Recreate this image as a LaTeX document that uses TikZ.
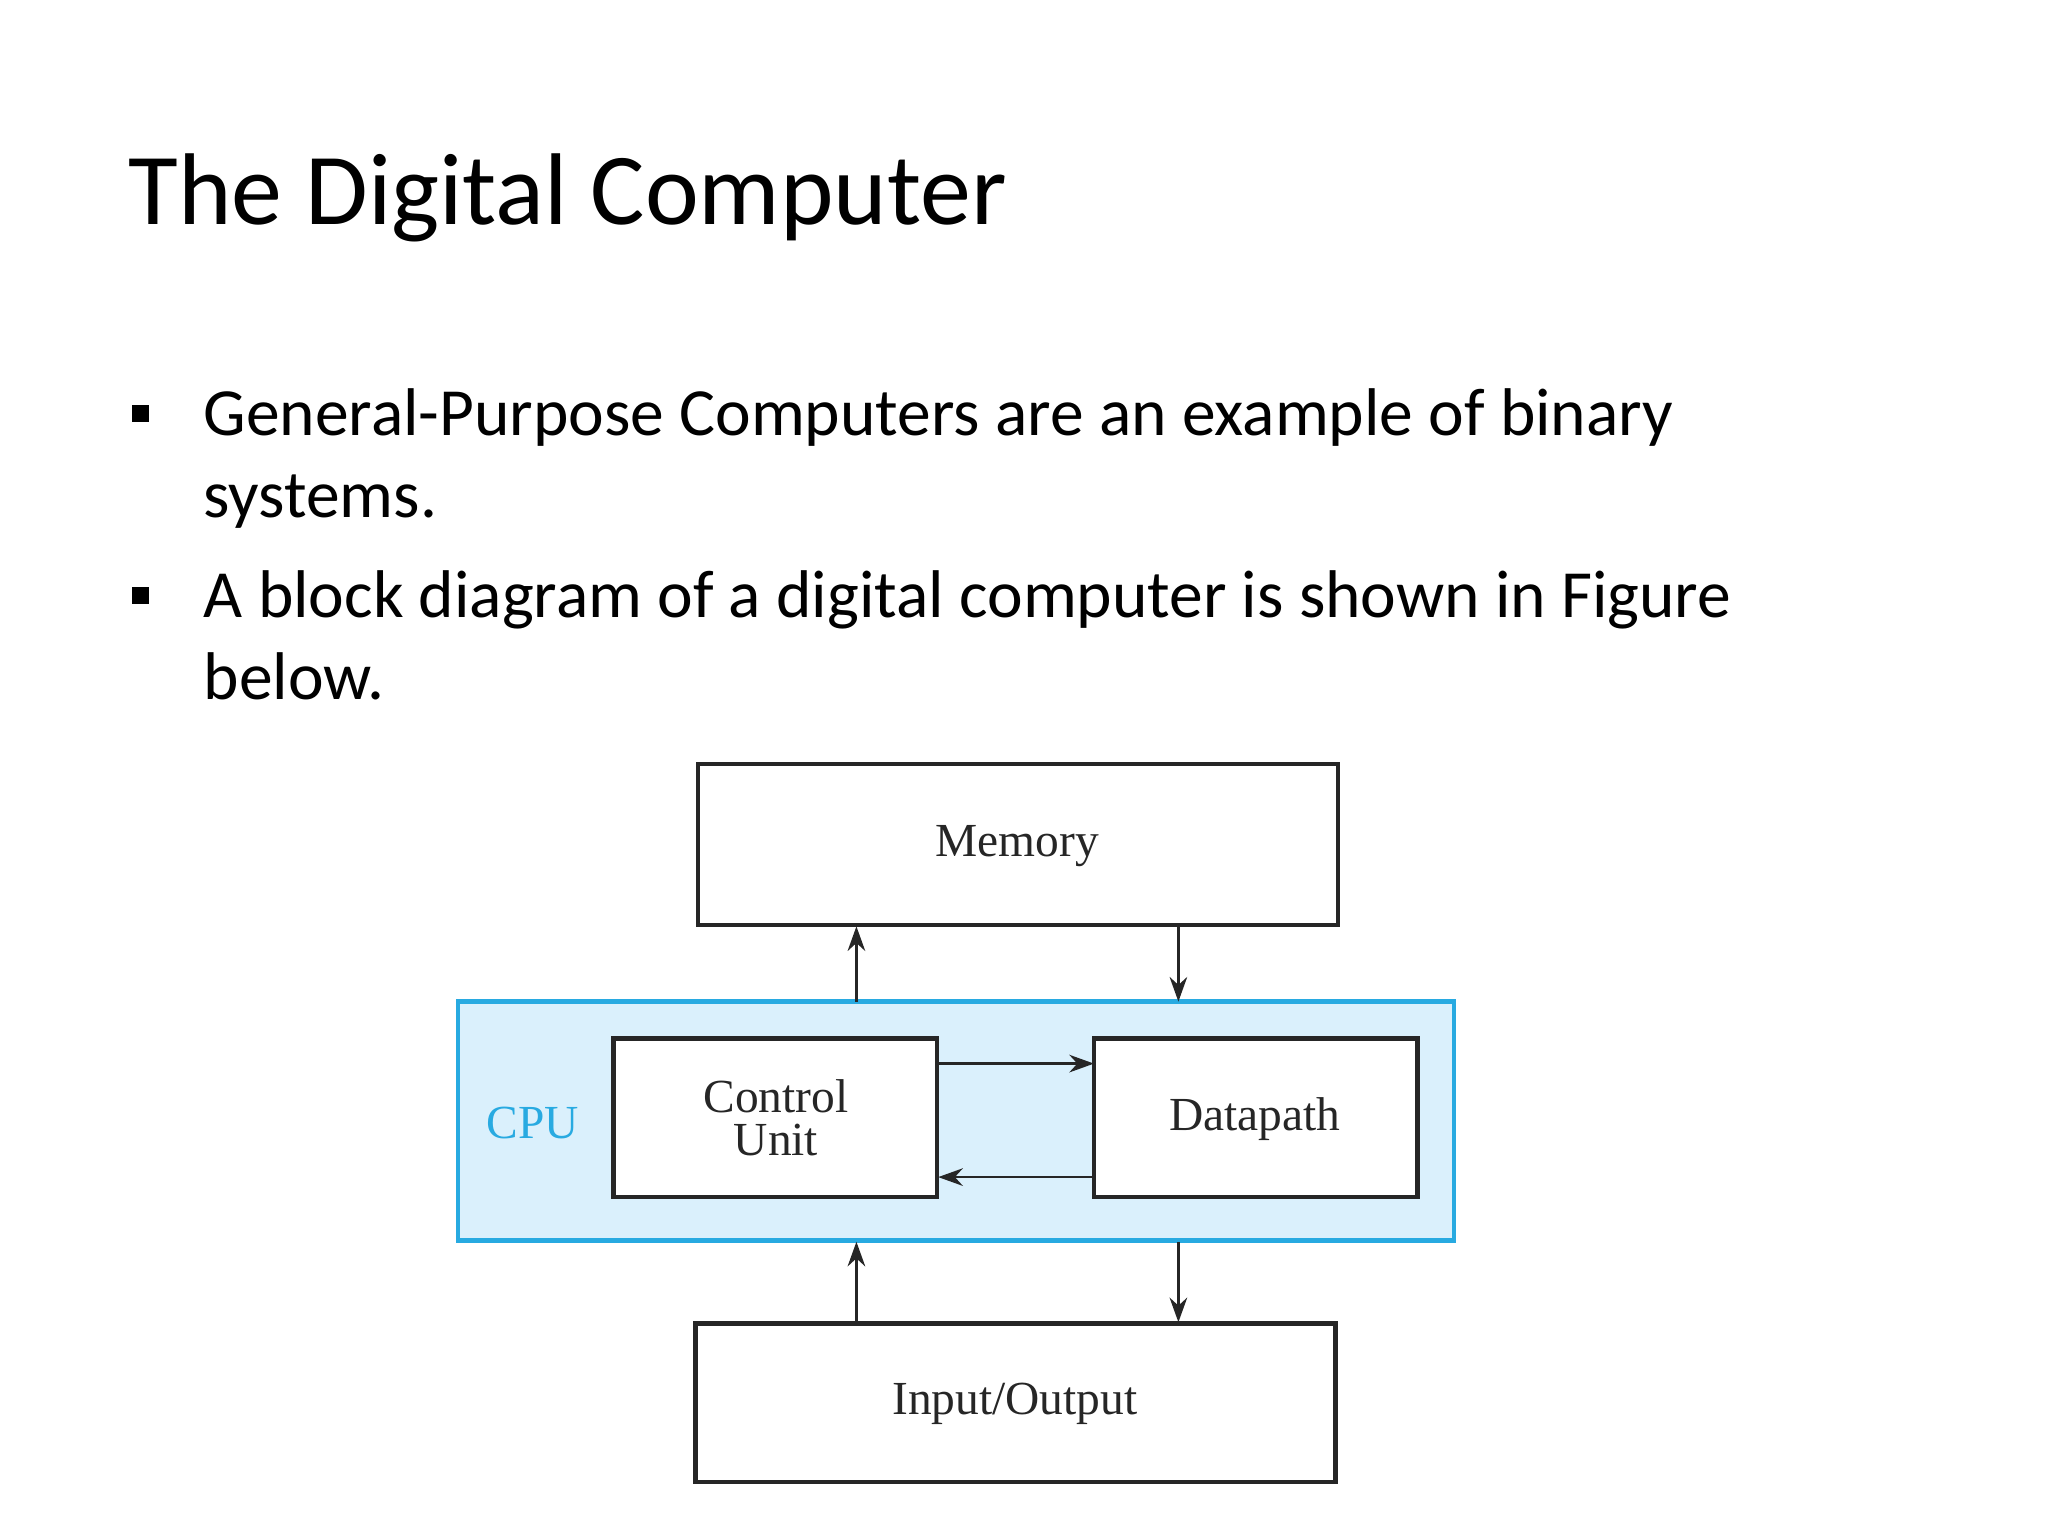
\documentclass[tikz,border=0pt]{standalone}
\usepackage{fontspec}
\setmainfont{Carlito}
\newfontfamily\serifd{Liberation Serif}
\usetikzlibrary{arrows.meta}
\definecolor{cpublue}{RGB}{40,170,225}
\definecolor{cpufill}{RGB}{218,240,252}
\begin{document}
\begin{tikzpicture}[x=0.013196cm,y=-0.013196cm,
  box/.style={draw=black!85,line width=1.3pt,fill=white},
  lbl/.style={font=\serifd\fontsize{13.5}{15}\selectfont,text=black!85,align=center},
  arr/.style={draw=black!85,line width=0.8pt,-{Stealth[length=7pt,width=5pt]}},
  bul/.style={anchor=base west,font=\fontsize{19.2}{23}\selectfont}]
\useasboundingbox (0,0) rectangle (1552,1164);
\node[anchor=base west,font=\fontsize{29}{35}\selectfont] (title) at (88,170) {The Digital Computer};
\fill (100,307) rectangle (113,320);
\node[bul] (b1) at (145,330) {General-Purpose Computers are an example of binary};
\node[bul] (b1b) at (145,392) {systems.};
\fill (100,445) rectangle (113,458);
\node[bul] (b2) at (145,468) {A block diagram of a digital computer is shown in Figure};
\node[bul] (b2b) at (145,530) {below.};

\draw[draw=cpublue,fill=cpufill,line width=1.3pt] (347,759) rectangle (1102,940);
\node[font=\serifd\fontsize{13.5}{15}\selectfont,text=cpublue] (cpu) at (404,851) {CPU};
\draw[box] (529,579) rectangle (1014,701);
\node[lbl] (mem) at (771,641) {Memory};
\draw[box] (465,787) rectangle (710,907);
\node[lbl] (cu) at (588,847) {Control\\[-3pt]Unit};
\draw[box] (829,787) rectangle (1074,907);
\node[lbl] (dp) at (951,848) {Datapath};
\draw[box] (527,1003) rectangle (1012,1123);
\node[lbl] (io) at (769,1064) {Input/Output};

\coordinate (a1) at (649,759); \coordinate (a1e) at (649,702);
\coordinate (a2) at (893,702); \coordinate (a2e) at (893,759);
\coordinate (a3) at (649,1003); \coordinate (a3e) at (649,941);
\coordinate (a4) at (893,941); \coordinate (a4e) at (893,1002);
\coordinate (c1) at (711,806); \coordinate (c1e) at (829,806);
\coordinate (c2) at (829,892); \coordinate (c2e) at (711,892);
\draw[arr] (a1) -- (a1e);
\draw[arr] (a2) -- (a2e);
\draw[arr] (a3) -- (a3e);
\draw[arr] (a4) -- (a4e);
\draw[arr] (c1) -- (c1e);
\draw[arr] (c2) -- (c2e);
\end{tikzpicture}
\end{document}
